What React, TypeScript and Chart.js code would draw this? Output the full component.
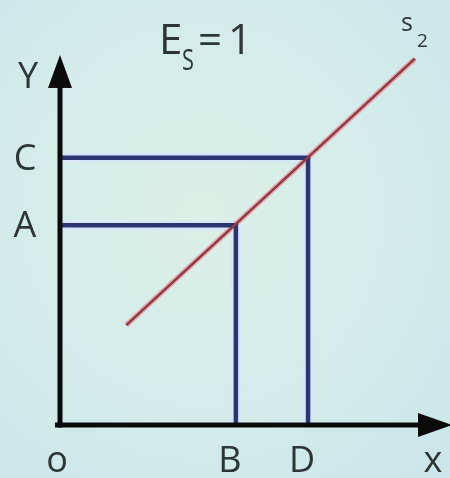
import React, { useEffect, useRef } from "react";
import { Chart, registerables } from "chart.js";

Chart.register(...registerables);

// Supply curve s2 (two end points, data units)
const supplyX = [17, 91];
const supplyY = [27, 99];

// Guide points on the supply curve
const guideX = [45.1, 63.6];
const guideY = [54, 72.2];
const yTickLabels = ["A", "C"];
const xTickLabels = ["B", "D"];

const titleMain = "E";
const titleSub = "S";
const titleEq = "=";
const titleVal = "1";
const curveName = "s";
const curveSub = "2";
const yAxisName = "Y";
const xAxisName = "x";
const originName = "o";

const FONT = "'Open Sans', 'DejaVu Sans', sans-serif";
const TEXT = "#2f3535";

const overlay = {
  id: "econOverlay",
  afterDatasetsDraw(chart: any) {
    const { ctx, scales } = chart;
    const xs = scales.x;
    const ys = scales.y;
    const ox = xs.getPixelForValue(0);
    const oy = ys.getPixelForValue(0);
    const xEnd = xs.getPixelForValue(xs.max);
    const yTop = ys.getPixelForValue(ys.max);
    ctx.save();
    ctx.strokeStyle = "#0b0b0b";
    ctx.fillStyle = "#0b0b0b";
    ctx.lineWidth = 5;
    ctx.lineCap = "butt";
    // y axis
    ctx.beginPath();
    ctx.moveTo(ox, oy + 2.5);
    ctx.lineTo(ox, yTop + 30);
    ctx.stroke();
    // x axis
    ctx.beginPath();
    ctx.moveTo(ox - 5, oy);
    ctx.lineTo(xEnd - 28, oy);
    ctx.stroke();
    // arrow heads
    ctx.beginPath();
    ctx.moveTo(ox, yTop);
    ctx.lineTo(ox - 12, yTop + 33);
    ctx.lineTo(ox + 12, yTop + 33);
    ctx.closePath();
    ctx.fill();
    ctx.beginPath();
    ctx.moveTo(xEnd + 2, oy);
    ctx.lineTo(xEnd - 32, oy - 12);
    ctx.lineTo(xEnd - 32, oy + 12);
    ctx.closePath();
    ctx.fill();

    // labels
    ctx.fillStyle = TEXT;
    ctx.textAlign = "center";
    ctx.textBaseline = "alphabetic";
    ctx.font = `36px ${FONT}`;
    ctx.fillText(yAxisName, ox - 32, yTop + 33);
    yTickLabels.forEach((t, i) => {
      ctx.fillText(t, ox - 35, ys.getPixelForValue(guideY[i]) + 12);
    });
    xTickLabels.forEach((t, i) => {
      ctx.fillText(t, xs.getPixelForValue(guideX[i]) - 6, oy + 47);
    });
    ctx.fillText(originName, ox - 3, oy + 47);
    ctx.fillText(xAxisName, xEnd - 17, oy + 47);

    // title E_S=1
    const tb = 54;
    ctx.textAlign = "left";
    ctx.font = `42px ${FONT}`;
    ctx.fillText(titleMain, 159, tb);
    ctx.save();
    ctx.translate(182, tb + 16);
    ctx.scale(0.75, 1);
    ctx.font = `29px ${FONT}`;
    ctx.fillText(titleSub, 0, 0);
    ctx.restore();
    ctx.textAlign = "center";
    ctx.font = `42px ${FONT}`;
    ctx.fillText(titleEq, 210, tb);
    ctx.fillText(titleVal, 240, tb);

    // curve label s2
    ctx.textAlign = "left";
    ctx.font = `25px ${FONT}`;
    ctx.fillText(curveName, 401, 31);
    ctx.font = `19px ${FONT}`;
    ctx.fillText(curveSub, 417, 47);
    ctx.restore();
  },
};

export default function App() {
  const ref = useRef<HTMLCanvasElement | null>(null);
  useEffect(() => {
    if (!ref.current) return;
    const guideData = guideX.map((gx, i) => [
      { x: 0, y: guideY[i] },
      { x: gx, y: guideY[i] },
      { x: gx, y: 0 },
    ]);
    const guideSets = guideData.map((d) => ({
      data: d,
      borderColor: "#2b3573",
      borderWidth: 4.5,
      pointRadius: 0,
      tension: 0,
      showLine: true,
      fill: false,
      borderJoinStyle: "miter",
      order: 1,
    }));
    const haloSets = guideData.map((d) => ({
      data: d,
      borderColor: "rgba(215,228,255,0.7)",
      borderWidth: 10,
      pointRadius: 0,
      tension: 0,
      showLine: true,
      fill: false,
      order: 3,
    }));
    const supplyData = supplyX.map((x, i) => ({ x, y: supplyY[i] }));
    const chart = new Chart(ref.current, {
      type: "scatter",
      data: {
        datasets: [
          {
            data: supplyData,
            borderColor: "#94393d",
            borderWidth: 2.5,
            pointRadius: 0,
            showLine: true,
            tension: 0,
            order: 0,
          },
          ...guideSets,
          {
            data: supplyData,
            borderColor: "rgba(228,150,165,0.75)",
            borderWidth: 5.5,
            pointRadius: 0,
            showLine: true,
            tension: 0,
            order: 2,
          },
          ...haloSets,
        ] as any,
      },
      options: {
        animation: false,
        responsive: false,
        maintainAspectRatio: false,
        layout: { padding: { left: 60, right: 0, top: 55, bottom: 53 } },
        plugins: { legend: { display: false }, tooltip: { enabled: false }, title: { display: false } },
        scales: {
          x: { type: "linear", min: 0, max: 100, display: false },
          y: { type: "linear", min: 0, max: 100, display: false },
        },
        clip: false as any,
      },
      plugins: [overlay],
    });
    return () => chart.destroy();
  }, []);
  return (
    <div
      style={{
        position: "fixed",
        left: 0,
        top: 0,
        width: 450,
        height: 478,
        background:
          "radial-gradient(ellipse at 45% 45%, #dbf0e6 0%, #d3ecea 55%, #cae6ea 100%)",
      }}
    >
      <canvas ref={ref} width={450} height={478} />
    </div>
  );
}
